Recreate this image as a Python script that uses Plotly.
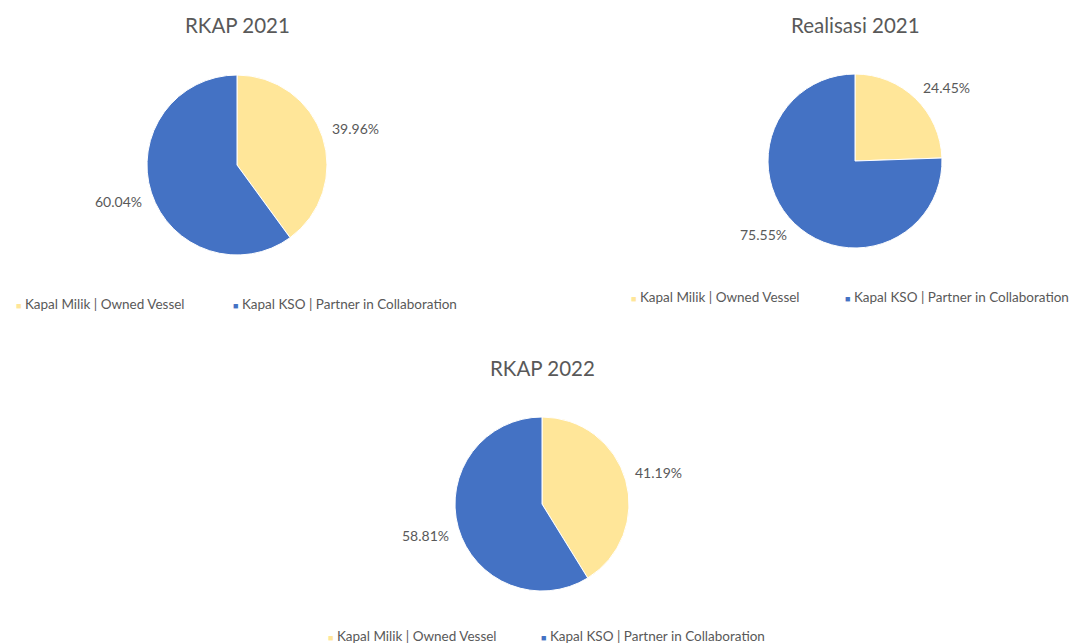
import math
import plotly.graph_objects as go

W, H = 1086, 643
OFF = 8  # default page body margin

categories = ["Kapal Milik | Owned Vessel", "Kapal KSO | Partner in Collaboration"]
colors = ["#FFE699", "#4472C4"]
titles = ["RKAP 2021", "Realisasi 2021", "RKAP 2022"]
rkap_2021 = [39.96, 60.04]
realisasi_2021 = [24.45, 75.55]
rkap_2022 = [41.19, 58.81]
series = [rkap_2021, realisasi_2021, rkap_2022]

# layout (pixels in the page): pie centre, radius, title y, legend y, legend x start
centres = [(237, 165), (855, 161), (542, 504)]
radii = [90, 87, 87]
title_y = [25, 25, 368]
legend_y = [304, 297, 636]
legend_x = [14, 629, 326]
legend_gaps = [217, 214, 213]

TXT = "#595959"
FONT = "Lato"

def px(x):
    return (x - OFF) / W

def py(y):
    return 1 - (y - OFF) / H

fig = go.Figure()
annotations = []
for i, vals in enumerate(series):
    cx, cy = centres[i]
    r = radii[i]
    fig.add_trace(go.Pie(
        labels=categories, values=vals, sort=False, direction="clockwise",
        rotation=0, textinfo="none", hoverinfo="label+percent",
        marker=dict(colors=colors, line=dict(color="white", width=1)),
        domain=dict(x=[px(cx - r), px(cx + r)], y=[py(cy + r), py(cy - r)]),
        showlegend=False,
    ))
    annotations.append(dict(text=titles[i], x=px(cx), y=py(title_y[i]), xref="paper", yref="paper",
                            showarrow=False, xanchor="center", yanchor="middle",
                            font=dict(family=FONT, size=20.5, color=TXT)))
    total = sum(vals)
    start = 0.0
    for v in vals:
        mid = (start + v / 2) / total * 2 * math.pi
        start += v
        sx, sy = math.sin(mid), math.cos(mid)
        ex = cx + (r + 7) * sx
        ey = cy - (r + 7) * sy
        lx = ex + 26 * (1 if sx >= 0 else -1)
        ly = ey - 6 * (1 if sy >= 0 else -1)
        annotations.append(dict(text=f"{v:.2f}%", x=px(lx), y=py(ly), xref="paper", yref="paper",
                                showarrow=False, xanchor="center", yanchor="middle",
                                font=dict(family=FONT, size=14, color=TXT)))
    for k, cat in enumerate(categories):
        annotations.append(dict(
            text=f"<span style='font-size:9px;color:{colors[k]}'>■</span> {cat}",
            x=px(legend_x[i] + k * legend_gaps[i]), y=py(legend_y[i]), xref="paper", yref="paper",
            showarrow=False, xanchor="left", yanchor="middle",
            font=dict(family=FONT, size=13.5, color=TXT)))

fig.update_layout(width=W, height=H, margin=dict(l=0, r=0, t=0, b=0),
                  paper_bgcolor="white", plot_bgcolor="white",
                  annotations=annotations, showlegend=False)
fig.write_html("out.html")
